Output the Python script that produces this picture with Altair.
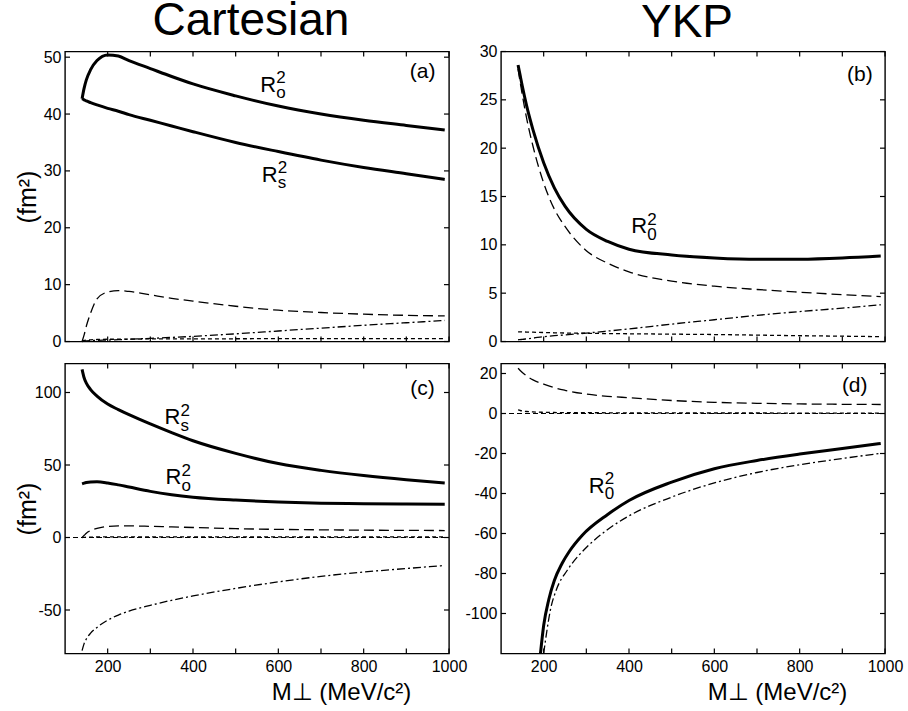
import altair as alt
import pandas as pd

FONT = "Liberation Sans, Arial, Helvetica, sans-serif"
W, H = 384, 290

# ---------------- data ----------------
M_STD = [140, 145, 150, 160, 175, 200, 225, 250, 300, 350, 400, 500, 600, 700, 800, 900, 990]

# panel (a) Cartesian, top
a_Ro = [42.7, 44.6, 46.0, 47.8, 49.4, 50.4, 50.2, 49.4, 48.0, 46.6, 45.3, 43.2, 41.4, 40.0, 38.9, 38.0, 37.2]
a_Rs = [42.7, 42.5, 42.3, 42.0, 41.6, 41.0, 40.5, 39.9, 38.9, 37.9, 36.9, 35.0, 33.4, 31.9, 30.6, 29.5, 28.5]
a_dash = [0.0, 1.2, 2.7, 5.0, 7.5, 8.7, 8.95, 8.8, 8.2, 7.6, 7.1, 6.2, 5.5, 5.1, 4.8, 4.6, 4.5]
a_dashdot = [0.0, 0.05, 0.1, 0.15, 0.2, 0.25, 0.32, 0.4, 0.55, 0.72, 0.9, 1.35, 1.85, 2.35, 2.85, 3.3, 3.7]
a_dot = [0.1, 0.2, 0.25, 0.3, 0.35, 0.4, 0.4, 0.42, 0.45, 0.45, 0.47, 0.48, 0.5, 0.5, 0.5, 0.5, 0.5]

# panel (b) YKP, top
b_R0 = [28.6, 27.5, 26.4, 24.4, 21.9, 18.5, 15.9, 14.0, 11.6, 10.35, 9.55, 8.95, 8.65, 8.5, 8.52, 8.65, 8.85]
b_dash = [28.2, 26.8, 25.5, 23.1, 20.2, 16.4, 13.7, 11.9, 9.4, 8.1, 7.2, 6.25, 5.72, 5.38, 5.1, 4.85, 4.65]
b_dashdot = [0.18, 0.2, 0.22, 0.27, 0.35, 0.5, 0.6, 0.68, 0.87, 1.08, 1.3, 1.8, 2.25, 2.7, 3.1, 3.45, 3.8]
b_dot = [1.0, 1.0, 0.99, 0.98, 0.96, 0.93, 0.9, 0.88, 0.85, 0.82, 0.8, 0.76, 0.72, 0.66, 0.6, 0.55, 0.5]

# panel (c) Cartesian, bottom
c_Rs = [116, 110, 106.5, 102, 97.5, 92, 88.2, 84.7, 78.3, 72.3, 66.7, 58, 51, 46.3, 42.7, 39.8, 37.6]
c_Ro = [37.0, 37.5, 37.9, 38.3, 38.4, 37.6, 36.3, 34.8, 31.8, 29.5, 27.8, 25.8, 24.5, 23.7, 23.3, 23.1, 23.0]
c_dash = [0.0, 1.5, 3.0, 4.8, 6.3, 7.6, 8.0, 8.0, 7.7, 7.3, 6.9, 6.1, 5.6, 5.3, 5.05, 4.9, 4.8]
c_dot = [0.0, 0.1, 0.2, 0.3, 0.35, 0.4, 0.4, 0.42, 0.45, 0.47, 0.5, 0.5, 0.5, 0.5, 0.5, 0.5, 0.5]
c_dashdot = [-78, -73, -70, -66, -62, -57, -53.5, -50.8, -46.8, -43.3, -40.3, -35.1, -30.6, -26.8, -23.8, -21.4, -19.3]

# panel (d) YKP, bottom
d_M_R0 = [192.5, 200, 212, 225, 243, 260, 290, 350, 400, 500, 600, 700, 800, 900, 990]
d_R0 = [-120, -106, -93, -83.5, -75, -69, -61, -50.5, -43.5, -34.3, -27.6, -23.5, -20.3, -17.5, -15]
d_M_dd = [200, 208, 216, 230, 255, 280, 300, 350, 400, 500, 600, 700, 800, 900, 990]
d_dashdot = [-120, -108, -98, -88, -78.5, -71.5, -67, -58, -51.2, -41.8, -34.7, -29.5, -25.6, -22.5, -19.9]
d_dash = [22.6, 21.5, 20.5, 18.8, 16.8, 14.7, 12.9, 11.6, 9.7, 8.6, 7.9, 6.5, 5.6, 5.1, 4.8, 4.6, 4.5]
d_dot = [1.8, 1.5, 1.3, 1.0, 0.8, 0.6, 0.5, 0.45, 0.4, 0.35, 0.3, 0.3, 0.25, 0.25, 0.2, 0.2, 0.2]

ZERO_M = [100, 1000]
ZERO_V = [0, 0]

X_DOMAIN = [100, 1000]
X_LABELS = [200, 400, 600, 800, 1000]
X_TICKS = [200, 300, 400, 500, 600, 700, 800, 900, 1000]

Y_A = dict(domain=[0, 51], ticks=[0, 10, 20, 30, 40, 50])
Y_B = dict(domain=[0, 30], ticks=[0, 5, 10, 15, 20, 25, 30])
Y_C = dict(domain=[-80, 120], ticks=[-50, 0, 50, 100])
Y_D = dict(domain=[-120, 25], ticks=[-100, -80, -60, -40, -20, 0, 20])

# curve labels: anchor (M, value) and subscript text
LAB_A = dict(M=[557.8, 561.3], v=[43.9, 28.07], sub=["o", "s"])
LAB_B = dict(M=[405.4], v=[11.2], sub=["0"])
LAB_C = dict(M=[333.0, 335.3], v=[78.2, 36.9], sub=["s", "o"])
LAB_D = dict(M=[305.4], v=[-39.5], sub=["0"])

TAGS = {"a": (938, 47.4, "(a)"), "b": (941, 27.6, "(b)"),
        "c": (938, 102.3, "(c)"), "d": (929, 13.6, "(d)")}


def df(x, y, name="s"):
    return pd.DataFrame({"M": x, "v": y, "s": name})


def panel(solids, dash, dashdot, dot, zero, ydef, labels, tag, bottom, left, title=None, tdy=0):
    xs = alt.Scale(domain=X_DOMAIN, nice=False, zero=False)
    ys = alt.Scale(domain=ydef["domain"], nice=False, zero=False)
    X = lambda: alt.X("M:Q", scale=xs, axis=None)
    Y = lambda: alt.Y("v:Q", scale=ys, axis=None)

    if bottom:
        x_main = alt.Axis(orient="bottom", values=X_LABELS, ticks=False, tickSize=0, domain=False,
                          grid=False, labelFlush=False, labelOverlap=False, labelPadding=5,
                          labelFontSize=16, labelExpr="'' + datum.value",
                          title="M⊥ (MeV/c²)", titleX=276, titleY=46,
                          titleAlign="center", titleBaseline="alphabetic", titleFontSize=24,
                          titleFontWeight="normal")
    else:
        x_main = None
    y_main = alt.Axis(orient="left", values=ydef["ticks"], ticks=False, tickSize=0, domain=False,
                      grid=False, labelFlush=False, labelOverlap=False, labelPadding=4,
                      labelFontSize=16, labelExpr="'' + datum.value",
                      title="(fm²)" if left else None,
                      titleX=-38, titleAlign="center", titleBaseline="middle",
                      titleFontSize=25, titleFontWeight="normal")

    solid_df = pd.concat([df(m, v, f"s{i}") for i, (m, v) in enumerate(solids)])
    layers = [
        alt.Chart(solid_df).mark_line(color="black", strokeWidth=3, interpolate="monotone").encode(
            x=alt.X("M:Q", scale=xs, axis=x_main),
            y=alt.Y("v:Q", scale=ys, axis=y_main),
            detail="s:N",
        ),
        alt.Chart(df(*dash)).mark_line(color="black", strokeWidth=1.3, strokeDash=[10, 5],
                                       interpolate="monotone").encode(x=X(), y=Y()),
        alt.Chart(df(*dashdot)).mark_line(color="black", strokeWidth=1.3, strokeDash=[8, 3, 2, 3],
                                          interpolate="monotone").encode(x=X(), y=Y()),
        alt.Chart(df(*dot)).mark_line(color="black", strokeWidth=1.3, strokeDash=[4, 3],
                                      interpolate="monotone").encode(x=X(), y=Y()),
    ]
    if zero is not None:
        layers.append(alt.Chart(df(*zero)).mark_line(color="black", strokeWidth=1.1,
                                                     strokeDash=[5, 3]).encode(x=X(), y=Y()))

    # inward tick marks on all four frame edges, positioned through the scales
    xt = pd.DataFrame({"M": X_TICKS})
    yt = pd.DataFrame({"v": ydef["ticks"]})
    rule = dict(color="black", strokeWidth=1.2)
    layers += [
        alt.Chart(xt).mark_rule(**rule).encode(x=X(), y=alt.value(0), y2=alt.value(5)),
        alt.Chart(xt).mark_rule(**rule).encode(x=X(), y=alt.value(H), y2=alt.value(H - 5)),
        alt.Chart(yt).mark_rule(**rule).encode(y=Y(), x=alt.value(0), x2=alt.value(5)),
        alt.Chart(yt).mark_rule(**rule).encode(y=Y(), x=alt.value(W), x2=alt.value(W - 5)),
    ]

    lab = pd.DataFrame(labels)
    base_t = alt.Chart(lab).encode(x=X(), y=Y())
    layers.append(base_t.mark_text(font=FONT, fontSize=22, align="left", baseline="alphabetic",
                                   color="black").encode(text=alt.value("R")))
    layers.append(base_t.mark_text(font=FONT, fontSize=17, align="left", baseline="alphabetic",
                                   color="black", dx=16, dy=-8.4).encode(text=alt.value("2")))
    layers.append(base_t.mark_text(font=FONT, fontSize=17, align="left", baseline="alphabetic",
                                   color="black", dx=16, dy=6.6).encode(text="sub:N"))

    tx, ty, tt = TAGS[tag]
    tag_df = pd.DataFrame({"M": [tx], "v": [ty], "t": [tt]})
    layers.append(alt.Chart(tag_df).mark_text(font=FONT, fontSize=21, align="center",
                                              baseline="middle", color="black").encode(
        x=X(), y=Y(), text="t:N"))

    props = dict(width=W, height=H)
    if title is not None:
        props["title"] = alt.TitleParams(text=title, fontSize=46, font=FONT, fontWeight="normal",
                                         anchor="middle", dx=-6, dy=tdy, offset=3.5, color="black")
    return alt.layer(*layers).resolve_axis(x="independent", y="independent").properties(**props)


pa = panel([(M_STD, a_Ro), (M_STD, a_Rs)], (M_STD, a_dash), (M_STD, a_dashdot), (M_STD, a_dot),
           None, Y_A, LAB_A, "a", bottom=False, left=True, title="Cartesian")
pb = panel([(M_STD, b_R0)], (M_STD, b_dash), (M_STD, b_dashdot), (M_STD, b_dot),
           None, Y_B, LAB_B, "b", bottom=False, left=False, title="YKP", tdy=6.5)
pc = panel([(M_STD, c_Rs), (M_STD, c_Ro)], (M_STD, c_dash), (M_STD, c_dashdot), (M_STD, c_dot),
           (ZERO_M, ZERO_V), Y_C, LAB_C, "c", bottom=True, left=True)
pd_ = panel([(d_M_R0, d_R0)], (M_STD, d_dash), (d_M_dd, d_dashdot), (M_STD, d_dot),
            (ZERO_M, ZERO_V), Y_D, LAB_D, "d", bottom=True, left=False)

chart = alt.concat(pa, pb, pc, pd_, columns=2, bounds="flush",
                   spacing={"row": 22, "column": 52}).properties(
    padding={"left": 14, "top": -2.5, "right": 0, "bottom": 0},
    background="white",
).configure_view(stroke="black", strokeWidth=1.4).configure_axis(
    labelFont=FONT, titleFont=FONT, labelColor="black", titleColor="black", grid=False
)

chart.save("out.html", embed_options={"renderer": "svg", "actions": False})
